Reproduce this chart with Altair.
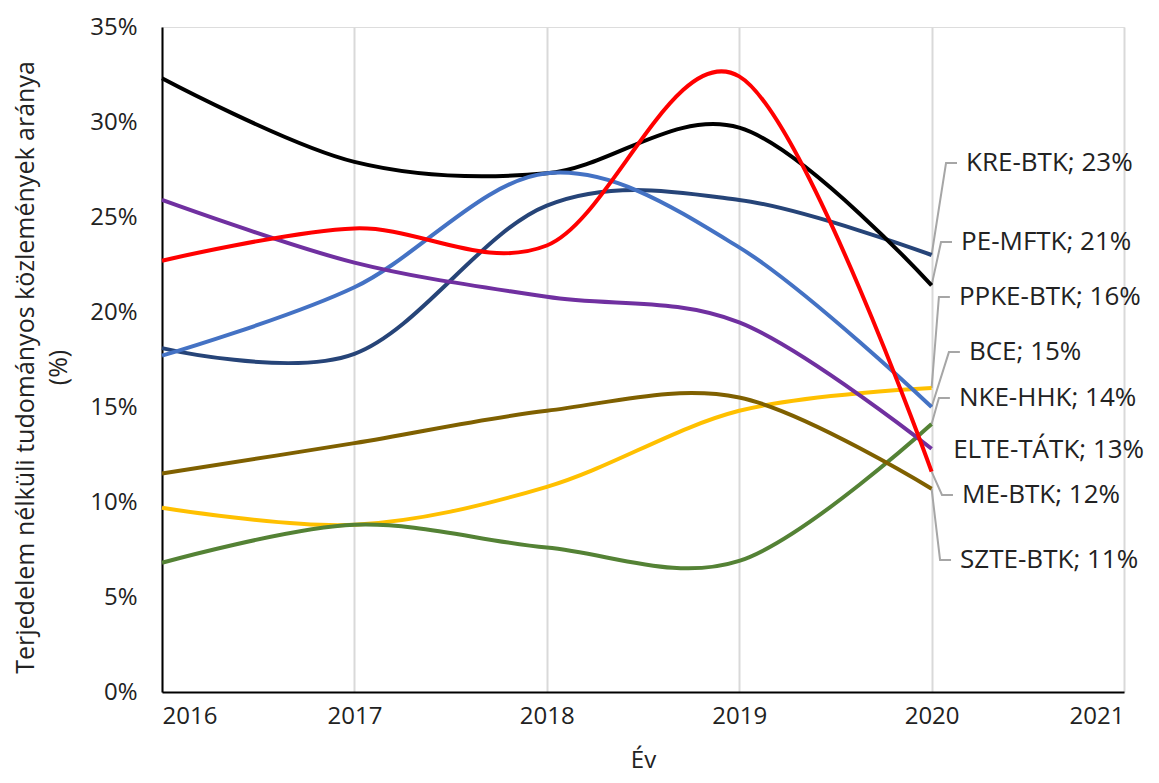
import altair as alt
import pandas as pd

years = [2016, 2017, 2018, 2019, 2020]
series_names = ["KRE-BTK", "PE-MFTK", "PPKE-BTK", "BCE", "NKE-HHK", "ELTE-TÁTK", "ME-BTK", "SZTE-BTK"]
kre_btk = [18.1, 17.8, 25.6, 25.9, 23.0]
pe_mftk = [32.3, 27.9, 27.3, 29.7, 21.4]
ppke_btk = [9.7, 8.8, 10.8, 14.8, 16.0]
bce = [17.7, 21.3, 27.3, 23.4, 15.0]
nke_hhk = [6.8, 8.8, 7.6, 6.9, 14.1]
elte_tatk = [25.9, 22.6, 20.8, 19.45, 12.8]
me_btk = [22.7, 24.4, 23.5, 32.4, 11.6]
szte_btk = [11.5, 13.1, 14.8, 15.5, 10.7]
series_values = [kre_btk, pe_mftk, ppke_btk, bce, nke_hhk, elte_tatk, me_btk, szte_btk]
colors = ["#264478", "#000000", "#FFC000", "#4472C4", "#548235", "#7030A0", "#FF0000", "#7F6000"]
x_ticks = [2016, 2017, 2018, 2019, 2020, 2021]
y_ticks = [0, 5, 10, 15, 20, 25, 30, 35]

# label layout (annotation placement, in data units)
label_y = [27.84, 23.68, 20.79, 17.89, 15.47, 12.74, 10.37, 6.95]
label_x = [2020.179, 2020.153, 2020.142, 2020.194, 2020.142, 2020.112, 2020.158, 2020.148]
show_leader = [True, True, True, True, True, False, True, True]

FONT = "Open Sans"
TXT = "#222222"

rows = []
for name, vals in zip(series_names, series_values):
    for yr, v in zip(years, vals):
        rows.append({"series": name, "year": yr, "value": v})
df = pd.DataFrame(rows)

lab_rows = []
lead_rows = []
for name, vals, ly, lx, sl in zip(series_names, series_values, label_y, label_x, show_leader):
    end = vals[-1]
    lab_rows.append({"series": name, "lx": lx, "ly": ly, "label": f"{name}; {round(end)}%"})
    if sl:
        lead_rows.append({"series": name, "idx": 0, "lx": years[-1], "ly": end})
        lead_rows.append({"series": name, "idx": 1, "lx": lx - 0.104, "ly": ly})
        lead_rows.append({"series": name, "idx": 2, "lx": lx - 0.047, "ly": ly})
lab_df = pd.DataFrame(lab_rows)
lead_df = pd.DataFrame(lead_rows)

xscale = alt.Scale(domain=[2016, 2021], nice=False, zero=False)
yscale = alt.Scale(domain=[0, 35], nice=False)

xaxis = alt.Axis(
    values=x_ticks, format="d", grid=True, gridColor="#d9d9d9", gridWidth=2,
    domainColor="#000000", domainWidth=2, ticks=False,
    labelFont=FONT, labelFontSize=24, labelColor=TXT, labelPadding=12,
    title="Év", titleFont=FONT, titleFontSize=24, titleFontWeight="normal",
    titleColor=TXT, titleY=68, titleBaseline="middle",
)
yaxis = alt.Axis(
    values=y_ticks, grid=False, ticks=False, domainColor="#000000", domainWidth=2,
    labelExpr="datum.value + '%'", labelFont=FONT, labelFontSize=24, labelColor=TXT,
    labelPadding=25,
    title=["Terjedelem nélküli tudományos közlemények aránya", "(%)"],
    titleFont=FONT, titleFontSize=25, titleFontWeight="normal", titleColor=TXT,
    titleAngle=270, titleX=-137, titleY=340, titleAlign="center",
    titleBaseline="middle", titleLineHeight=33,
)

lines = alt.Chart(df).mark_line(interpolate="cardinal", tension=0, strokeWidth=4).encode(
    x=alt.X("year:Q", scale=xscale, axis=xaxis),
    y=alt.Y("value:Q", scale=yscale, axis=yaxis),
    color=alt.Color("series:N", scale=alt.Scale(domain=series_names, range=colors), legend=None),
    detail="series:N",
)

leaders = alt.Chart(lead_df).mark_line(color="#a6a6a6", strokeWidth=2).encode(
    x=alt.X("lx:Q", scale=xscale),
    y=alt.Y("ly:Q", scale=yscale),
    detail="series:N",
    order="idx:Q",
)

labels = alt.Chart(lab_df).mark_text(
    align="left", baseline="middle", font=FONT, fontSize=26, color=TXT
).encode(
    x=alt.X("lx:Q", scale=xscale),
    y=alt.Y("ly:Q", scale=yscale),
    text="label:N",
)

chart = alt.layer(leaders, lines, labels).properties(
    width=962, height=665,
    padding={"left": 154, "top": 19, "right": 27, "bottom": 83},
    autosize=alt.AutoSizeParams(type="none"),
).configure_view(stroke=None).configure(background="#ffffff")

chart.save("out.html", embed_options={"renderer": "svg", "actions": False})
